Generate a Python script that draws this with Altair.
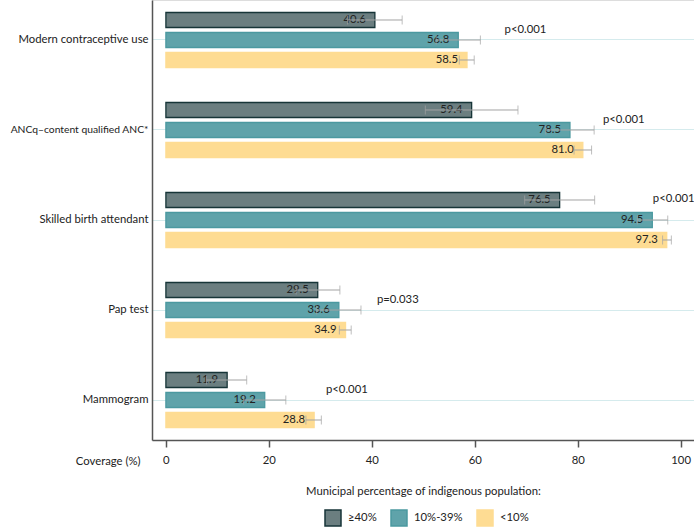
import altair as alt
import pandas as pd

# Health service coverage by municipal share of indigenous population
categories = [
    "Modern contraceptive use",
    "ANCq\u2013content qualified ANC*",
    "Skilled birth attendant",
    "Pap test",
    "Mammogram",
]
groups = ["\u226540%", "10%-39%", "<10%"]

# Point estimates (%)
cov_high = [40.6, 59.4, 76.5, 29.5, 11.9]   # >=40% indigenous
cov_mid = [56.8, 78.5, 94.5, 33.6, 19.2]    # 10%-39%
cov_low = [58.5, 81.0, 97.3, 34.9, 28.8]    # <10%

# 95% confidence limits
lo_high = [35.3, 50.4, 69.7, 25.3, 7.9]
hi_high = [45.9, 68.4, 83.3, 33.8, 15.7]
lo_mid = [52.5, 73.8, 91.6, 29.3, 15.1]
hi_mid = [61.1, 83.2, 97.5, 37.9, 23.3]
lo_low = [57.0, 79.3, 96.5, 33.7, 27.2]
hi_low = [59.9, 82.7, 98.2, 36.0, 30.2]

# Test of difference between groups
p_text = ["p<0.001", "p<0.001", "p<0.001", "p=0.033", "p<0.001"]

# Placement of the p-value annotations (left edge in coverage units, vertical shift in px)
p_anchor = [65.8, 84.9, 94.6, 41.0, 31.1]
p_shift = [-10, -10, -21, -10, -10]

legend_title = "Municipal percentage of indigenous population:"

fills = ["#6b7e80", "#5fa3aa", "#fedc93"]
strokes = ["#173538", "#4b99a0", "#fedc93"]

rows = []
for g, vals, los, his in [
    (groups[0], cov_high, lo_high, hi_high),
    (groups[1], cov_mid, lo_mid, hi_mid),
    (groups[2], cov_low, lo_low, hi_low),
]:
    for c, v, l, h in zip(categories, vals, los, his):
        rows.append({"category": c, "group": g, "value": v, "lo": l, "hi": h})
df = pd.DataFrame(rows)

FONT = "Lato"
FS = 11.3
INK = "#222222"

x_scale = alt.Scale(domain=[-2.7, 102.6], nice=False, zero=False)
y_scale = alt.Scale(domain=categories, paddingInner=1 / 3, paddingOuter=0.111)
off_scale = alt.Scale(domain=groups, paddingInner=0.25, paddingOuter=0.125)

y_enc = alt.Y(
    "category:N",
    scale=y_scale,
    sort=categories,
    axis=alt.Axis(
        title=None,
        ticks=False,
        labelPadding=4,
        # the long ANC label is set a touch smaller so it fits the margin
        labelFontSize={
            "condition": {"test": "indexof(datum.value, 'ANCq') == 0", "value": 10.3},
            "value": FS,
        },
        labelColor=INK,
        labelFont=FONT,
        labelLimit=300,
        domainColor="#555555",
        domainWidth=1.5,
        grid=True,
        gridColor="#d5ebed",
        gridWidth=1,
        bandPosition=0.5,
    ),
)
yoff_enc = alt.YOffset("group:N", scale=off_scale, sort=groups)

key = alt.Legend(
    title=None,
    orient="none",
    legendX=172,
    legendY=509,
    direction="horizontal",
    symbolType="square",
    symbolSize=256,
    symbolStrokeWidth=1.5,
    symbolOpacity=1,
    labelFontSize=FS,
    labelFont=FONT,
    labelColor=INK,
    labelOffset=6,
    columnPadding=11,
)

base = alt.Chart(df)

bars = base.mark_bar(strokeWidth=1.3).encode(
    x=alt.X(
        "value:Q",
        scale=x_scale,
        axis=alt.Axis(
            values=[0, 20, 40, 60, 80, 100],
            title="Coverage (%)",
            titleX=-12,
            titleY=21,
            titleAlign="right",
            titleBaseline="middle",
            titleFontWeight="normal",
            titleFontSize=FS,
            titleFont=FONT,
            titleColor=INK,
            labelFontSize=FS,
            labelFont=FONT,
            labelColor=INK,
            labelPadding=7,
            tickSize=7,
            tickWidth=1.5,
            tickColor="#555555",
            domainColor="#555555",
            domainWidth=1.5,
            grid=False,
        ),
    ),
    x2=alt.X2(datum=0),
    y=y_enc,
    yOffset=yoff_enc,
    fill=alt.Fill("group:N", scale=alt.Scale(domain=groups, range=fills), legend=key),
    stroke=alt.Stroke("group:N", scale=alt.Scale(domain=groups, range=strokes), legend=key),
)

value_labels = base.mark_text(
    align="right", baseline="middle", dx=-9, fontSize=FS, font=FONT, color=INK
).encode(
    x="value:Q",
    y=alt.Y("category:N", sort=categories),
    yOffset=yoff_enc,
    text=alt.Text("value:Q", format=".1f"),
)

err_line = base.mark_rule(color="#a3a3a3", strokeWidth=1).encode(
    x="lo:Q",
    x2="hi:Q",
    y=alt.Y("category:N", sort=categories),
    yOffset=yoff_enc,
)
cap_lo = base.mark_tick(color="#a3a3a3", thickness=1, size=9, orient="vertical").encode(
    x="lo:Q",
    y=alt.Y("category:N", sort=categories),
    yOffset=yoff_enc,
)
cap_hi = base.mark_tick(color="#a3a3a3", thickness=1, size=9, orient="vertical").encode(
    x="hi:Q",
    y=alt.Y("category:N", sort=categories),
    yOffset=yoff_enc,
)

layers = [bars, value_labels, err_line, cap_lo, cap_hi]

# p-value annotations, one layer each so every label keeps its own shift
for c, t, a, s in zip(categories, p_text, p_anchor, p_shift):
    pdf = pd.DataFrame({"category": [c], "p": [t], "anchor": [a]})
    layers.append(
        alt.Chart(pdf)
        .mark_text(align="left", baseline="middle", dy=s, fontSize=FS, font=FONT, color=INK)
        .encode(x="anchor:Q", y=alt.Y("category:N", sort=categories), text="p:N")
    )

# Legend heading above the key
layers.append(
    alt.Chart(pd.DataFrame({"t": [legend_title]}))
    .mark_text(align="left", baseline="middle", fontSize=FS, font=FONT, color=INK)
    .encode(x=alt.value(154), y=alt.value(492), text="t:N")
)

chart = (
    alt.layer(*layers)
    .properties(
        width=542,
        height=440,
        autosize=alt.AutoSizeParams(type="none"),
        padding={"left": 152, "top": 0, "right": 0, "bottom": 87},
    )
    .configure_view(stroke=None)
    .configure(background="white")
)

chart.save("out.html", embed_options={"renderer": "svg", "actions": False})
